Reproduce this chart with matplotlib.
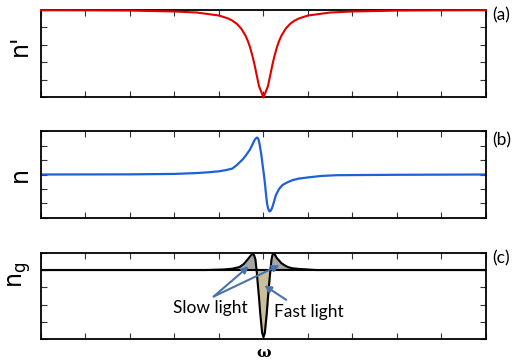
import matplotlib
matplotlib.use('Agg')
import matplotlib.pyplot as plt

# (a) n' : absorption dip
xa = [-5, -4, -3, -2, -1.5, -1, -0.8, -0.7, -0.6, -0.5, -0.4, -0.35, -0.3, -0.25, -0.2, -0.15, -0.1, 0,
      0.1, 0.15, 0.2, 0.25, 0.3, 0.35, 0.4, 0.5, 0.6, 0.7, 0.8, 1, 1.5, 2, 3, 4, 5]
ya = [0.997, 0.996, 0.993, 0.983, 0.971, 0.937, 0.904, 0.879, 0.842, 0.787, 0.703, 0.644, 0.571, 0.48, 0.372, 0.25, 0.129, 0.0,
      0.129, 0.25, 0.372, 0.48, 0.571, 0.644, 0.703, 0.787, 0.842, 0.879, 0.904, 0.937, 0.971, 0.983, 0.993, 0.996, 0.997]

# (b) n : dispersion
xb = [-5, -3, -2, -1.5, -1.25, -1, -0.85, -0.7, -0.6, -0.47, -0.4, -0.31, -0.25, -0.2, -0.17, -0.14,
      -0.115, -0.09, -0.05, -0.015, 0.01, 0.04, 0.06, 0.08, 0.105, 0.135, 0.16, 0.19, 0.23, 0.28,
      0.35, 0.43, 0.53, 0.66, 0.8, 1.03, 1.3, 1.63, 2, 3, 5]
yb = [0, 0.01, 0.04, 0.1, 0.15, 0.22, 0.3, 0.41, 0.65, 1.03, 1.3, 1.69, 2.05, 2.38, 2.5, 2.55,
      2.45, 2.14, 1.4, 0.55, 0.0, -0.83, -1.45, -2.0, -2.35, -2.55, -2.5, -2.34, -1.95, -1.41,
      -1.0, -0.72, -0.55, -0.38, -0.28, -0.19, -0.1, -0.05, -0.04, -0.02, 0]

# (c) n_g : group index
xc = [-5, -2, -1.29, -0.9, -0.70, -0.54, -0.45, -0.39, -0.30, -0.27, -0.24, -0.21, -0.18, -0.155,
      -0.13, -0.1, -0.074, -0.05, -0.03, 0,
      0.03, 0.05, 0.074, 0.1, 0.128, 0.155, 0.18, 0.20, 0.22, 0.26, 0.30, 0.35, 0.40, 0.47,
      0.55, 0.65, 0.81, 1.18, 2, 5]
yc = [0, 0, 0, 0.03, 0.077, 0.17, 0.33, 0.5, 0.79, 0.88, 0.94, 0.85, 0.6, 0.0,
      -0.75, -1.6, -2.48, -3.1, -3.63, -3.87,
      -3.63, -3.1, -2.48, -1.6, -0.75, 0.0, 0.6, 0.85, 0.94, 0.88, 0.69, 0.55, 0.40, 0.28,
      0.17, 0.1, 0.06, 0, 0, 0]

arrow_col = '#4A72A8'

fig = plt.figure(figsize=(5.15, 3.62), dpi=100)
L, W = 0.0796, 0.864
axa = fig.add_axes([L, 0.7307, W, 0.2417])
axb = fig.add_axes([L, 0.3978, W, 0.2403])
axc = fig.add_axes([L, 0.0627, W, 0.2392])

def style(ax, ylim, yticks):
    ax.set_xlim(-5, 5)
    ax.set_ylim(*ylim)
    ax.set_xticks(range(-5, 6))
    ax.set_yticks(yticks)
    ax.tick_params(direction='in', top=True, right=True, labelbottom=False,
                   labelleft=False, length=4, width=0.8, color='#333333')
    for s in ax.spines.values():
        s.set_linewidth(1.3)

axa.plot(xa, ya, color='#E00000', lw=1.5, zorder=3, clip_on=False)
style(axa, (0, 1), [0, 0.2, 0.4, 0.6, 0.8, 1])

axb.plot(xb, yb, color='#1F5FD8', lw=1.6)
style(axb, (-3, 3), [-3, -2, -1, 0, 1, 2, 3])

axc.fill_between(xc, yc, 0, where=[v > 0 for v in yc], interpolate=True, color='#A6A6A6')
axc.fill_between(xc, yc, 0, where=[v < 0 for v in yc], interpolate=True, color='#C9BF9D')
axc.axhline(0, color='black', lw=1.5)
axc.plot(xc, yc, color='black', lw=1.5)
style(axc, (-4, 1), [-4, -3, -2, -1, 0, 1])

ap = dict(arrowstyle='-|>', color=arrow_col, lw=1.5, mutation_scale=10, shrinkA=0, shrinkB=0)
axc.annotate('', xy=(-0.33, 0.22), xytext=(-1.12, -1.53), arrowprops=ap)
axc.annotate('', xy=(0.36, 0.28), xytext=(-1.12, -1.53), arrowprops=ap)
axc.annotate('', xy=(0.02, -0.89), xytext=(0.51, -1.72), arrowprops=ap)
axc.text(-1.19, -2.2, 'Slow light', family='Lato', fontsize=12.5, ha='center', va='center')
axc.text(1.03, -2.41, 'Fast light', family='Lato', fontsize=12.5, ha='center', va='center')

for lab, yy in [('(a)', 0.9586), ('(b)', 0.613), ('(c)', 0.287)]:
    fig.text(0.955, yy, lab, family='Lato', fontsize=12.5, va='center', ha='left')

fig.text(0.039, 0.876, "n'", fontsize=17, rotation=90, ha='center', va='center')
fig.text(0.039, 0.517, "n", fontsize=17, rotation=90, ha='center', va='center')
fig.text(0.039, 0.24, r"n$_\mathregular{g}$", fontsize=17, rotation=90, ha='center', va='center')
fig.text(0.5126, 0.006, 'ω', family='DejaVu Serif', fontweight='bold', fontsize=11,
         ha='center', va='bottom')

fig.savefig('out.png', dpi=100)
